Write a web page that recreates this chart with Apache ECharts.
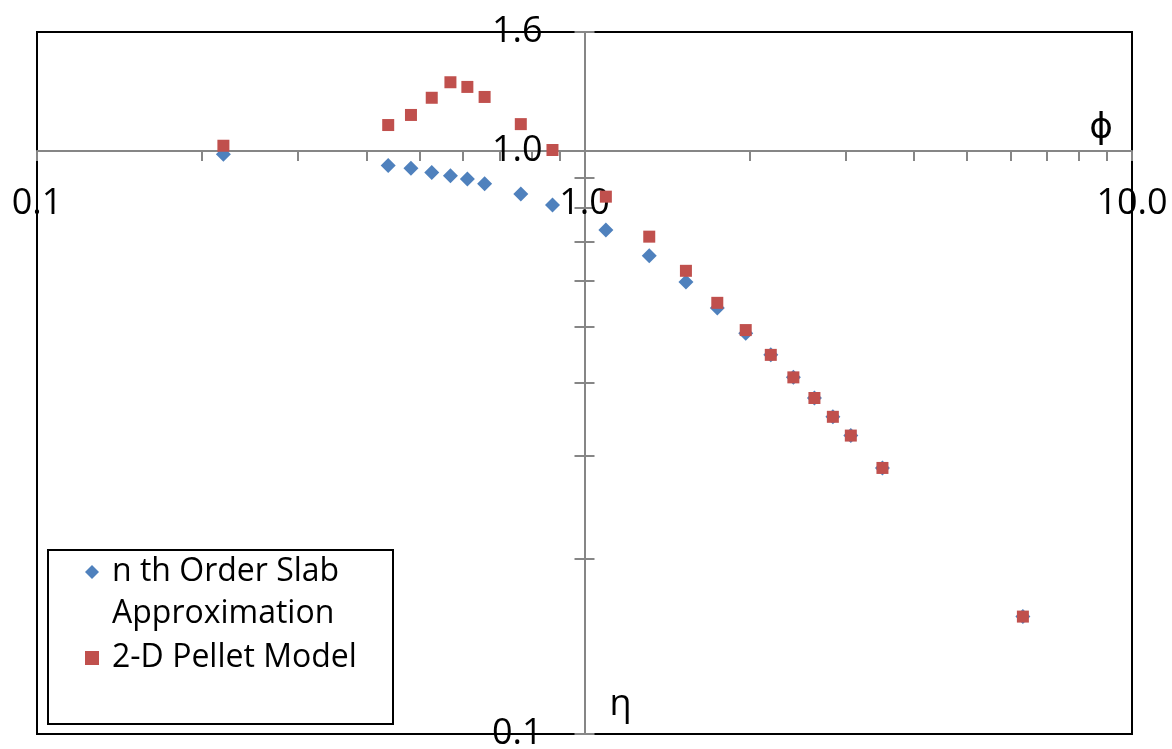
<!DOCTYPE html>
<html>
<head>
<meta charset="utf-8">
<script src="https://cdn.jsdelivr.net/npm/echarts@6/dist/echarts.min.js"></script>
<style>
  html, body { margin: 0; padding: 0; background: #fff; }
  #chart { width: 1172px; height: 749px; }
</style>
</head>
<body>
<div id="chart"></div>
<script>
// values (log-log plot)
const phi = [0.219, 0.438, 0.482, 0.526, 0.569, 0.611, 0.657, 0.765, 0.874, 1.094, 1.313,
             1.532, 1.748, 1.970, 2.189, 2.407, 2.630, 2.842, 3.065, 3.501, 6.32];
const etaSlab = [0.987, 0.944, 0.934, 0.919, 0.907, 0.895, 0.879, 0.844, 0.808, 0.732, 0.661,
                 0.596, 0.538, 0.487, 0.447, 0.409, 0.377, 0.350, 0.325, 0.286, 0.159];
const etaPellet = [1.021, 1.108, 1.153, 1.234, 1.312, 1.288, 1.238, 1.112, 1.004, 0.835, 0.713,
                   0.623, 0.549, 0.493, 0.447, 0.409, 0.377, 0.350, 0.325, 0.286, 0.159];
const seriesNames = ['n th Order Slab Approximation', '2-D Pellet Model'];

const xRange = [0.1, 10];
const xTicks = [0.1, 0.2, 0.3, 0.4, 0.5, 0.6, 0.7, 0.8, 0.9, 1, 2, 3, 4, 5, 6, 7, 8, 9, 10];
const yRange = [0.1, 1.6];
const yTicks = [0.1, 0.2, 0.3, 0.4, 0.5, 0.6, 0.7, 0.8, 0.9, 1, 1.6];
const crossAt = 1; // both axes cross at 1.0

const FONT = "'Open Sans', 'DejaVu Sans', sans-serif";
const AXIS_GRAY = '#868686';
const lg = Math.log10;

const chart = echarts.init(document.getElementById('chart'));

// axes work in log10 space; each axis is shifted from the grid edge to the 1.0 line
const grid = { left: 37, right: 40, top: 32, bottom: 15 };
const gridW = chart.getWidth() - grid.left - grid.right;
const gridH = chart.getHeight() - grid.top - grid.bottom;
const xShift = -gridH * (lg(crossAt) - lg(yRange[0])) / (lg(yRange[1]) - lg(yRange[0]));
const yShift = -gridW * (lg(crossAt) - lg(xRange[0])) / (lg(xRange[1]) - lg(xRange[0]));

const toPoints = ys => phi.map((x, i) => [lg(x), lg(ys[i])]);
const fmt = v => Math.pow(10, v).toFixed(1);
const labelStyle = { formatter: fmt, fontFamily: FONT, fontSize: 36, color: '#000' };
const tickLine = { color: AXIS_GRAY, width: 2 };

chart.setOption({
    animation: false,
    backgroundColor: '#fff',
    grid: Object.assign({
        show: true, borderColor: '#000', borderWidth: 2,
        containLabel: false, outerBoundsMode: 'none'
    }, grid),
    graphic: [{
        type: 'rect', left: 47, top: 549, z: 0,
        shape: { width: 345, height: 174 },
        style: { fill: '#fff', stroke: '#000', lineWidth: 2 }
    }],
    legend: {
        orient: 'vertical', left: 85, top: 509, padding: 0, itemGap: 2,
        itemWidth: 14, itemHeight: 14, z: 10,
        textStyle: { fontFamily: FONT, fontSize: 32, color: '#000', lineHeight: 42, padding: [0, 0, 0, 8] },
        // empty first line keeps the icon level with "n th Order Slab"
        formatter: name => name === seriesNames[0] ? '\nn th Order Slab\nApproximation' : name,
        data: seriesNames
    },
    xAxis: {
        type: 'value', min: lg(xRange[0]), max: lg(xRange[1]), interval: 1,
        position: 'bottom', offset: xShift,
        axisLine: { onZero: false, lineStyle: { color: AXIS_GRAY, width: 2 } },
        axisTick: { show: true, length: 10, customValues: xTicks.map(lg), lineStyle: tickLine },
        axisLabel: Object.assign({ margin: 35 }, labelStyle),
        splitLine: { show: false },
        name: 'ϕ', nameLocation: 'end', nameGap: -19,
        nameTextStyle: { fontFamily: FONT, fontSize: 36, color: '#000', align: 'right',
                         verticalAlign: 'bottom', lineHeight: 47 }
    },
    yAxis: [{
        type: 'value', min: lg(yRange[0]), max: lg(yRange[1]), interval: 1,
        position: 'left', offset: yShift,
        axisLine: { onZero: false, lineStyle: { color: AXIS_GRAY, width: 2 } },
        axisTick: { show: true, length: 10, customValues: yTicks.map(lg), lineStyle: tickLine },
        axisLabel: Object.assign({ margin: 42, showMaxLabel: true }, labelStyle),
        splitLine: { show: false },
        name: 'η', nameLocation: 'start', nameGap: -29,
        nameTextStyle: { fontFamily: FONT, fontSize: 36, color: '#000', align: 'left',
                         verticalAlign: 'middle', padding: [0, 0, 0, 25] }
    }, {
        // same y axis again with inward ticks -> crossing tick marks
        type: 'value', min: lg(yRange[0]), max: lg(yRange[1]),
        position: 'left', offset: yShift,
        axisLine: { show: false, onZero: false },
        axisTick: { show: true, inside: true, length: 10, customValues: yTicks.map(lg), lineStyle: tickLine },
        axisLabel: { show: false },
        splitLine: { show: false }
    }],
    series: [{
        name: seriesNames[0],
        type: 'scatter',
        symbol: 'diamond',
        symbolSize: 15,
        itemStyle: { color: '#4F81BD', opacity: 1 },
        data: toPoints(etaSlab)
    }, {
        name: seriesNames[1],
        type: 'scatter',
        symbol: 'rect',
        symbolSize: 12,
        itemStyle: { color: '#C0504D', opacity: 1 },
        data: toPoints(etaPellet)
    }]
});
</script>
</body>
</html>
